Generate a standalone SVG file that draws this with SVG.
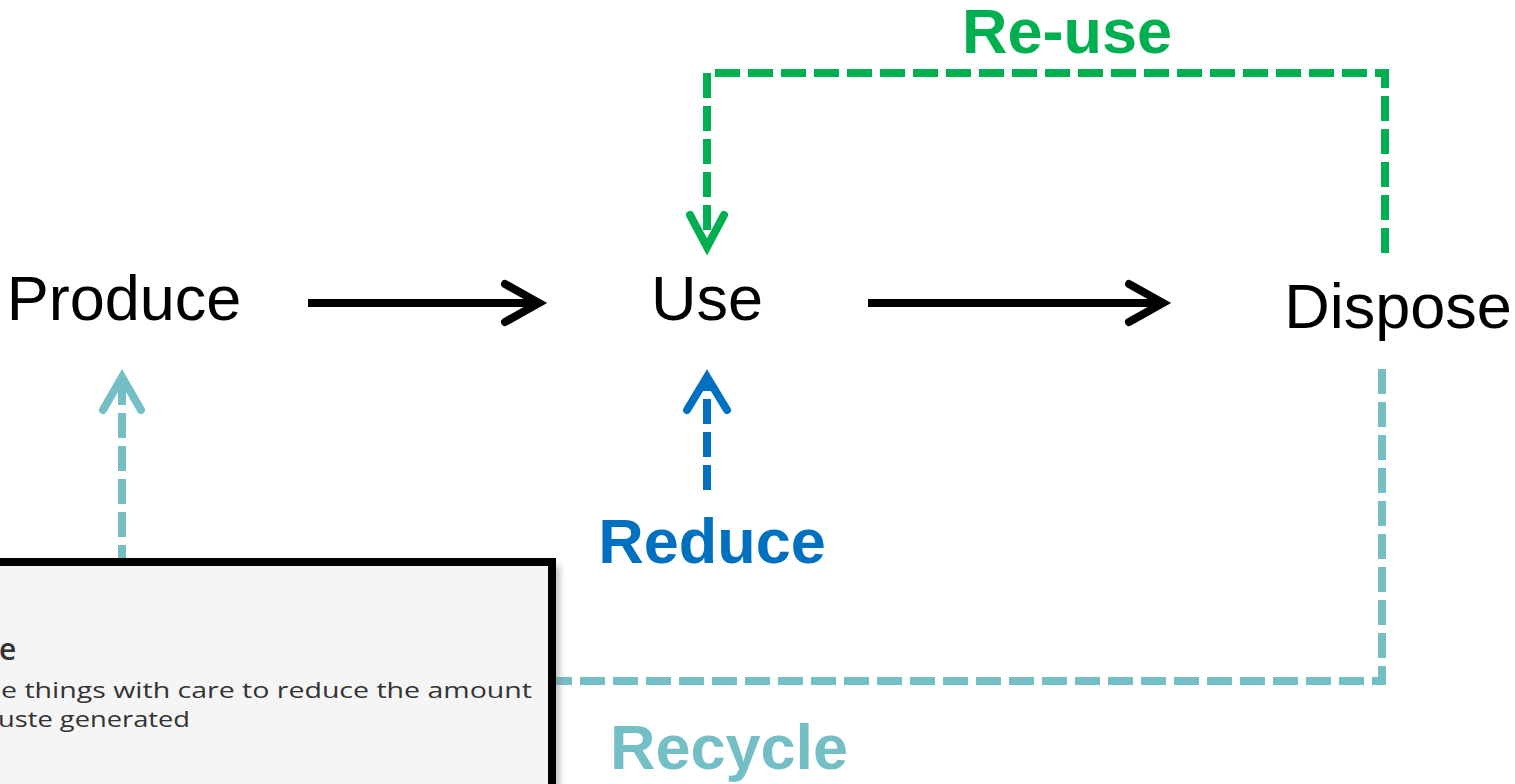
<svg xmlns="http://www.w3.org/2000/svg" width="1515" height="784" viewBox="0 0 1515 784">
<style>
.lbl{font-family:"Liberation Sans",Arial,sans-serif;font-size:63px;fill:#000;text-anchor:middle}
.bold{font-family:"Liberation Sans",Arial,sans-serif;font-size:63px;font-weight:bold;text-anchor:middle}
.solid{fill:none;stroke:#000;stroke-width:8}
.head{fill:none;stroke-width:8;stroke-linecap:round;stroke-linejoin:miter}
.dash{fill:none;stroke-width:8;stroke-dasharray:25 8}
.green{stroke:#00B050}
.blue{stroke:#0070C0}
.teal{stroke:#74BFC5}
.tip{font-family:"Open Sans","Noto Sans",sans-serif;fill:#333}
</style>
<defs>
<filter id="sh" x="-10%" y="-10%" width="120%" height="120%">
<feGaussianBlur stdDeviation="3"/>
</filter>
</defs>
<rect width="1515" height="784" fill="#fff"/>
<g id="connectors">
<path class="solid" d="M308,303 H536"/>
<polyline class="head" stroke="#000" points="505,284 539,303 505,322"/>
<path class="solid" d="M868,303 H1160"/>
<polyline class="head" stroke="#000" points="1129,284 1163,303 1129,322"/>
<path class="dash green" d="M1385,253 V73 H707 V244"/>
<polyline class="head green" points="690,215 707,247 724,215"/>
<path class="dash blue" d="M707,490 V380"/>
<polyline class="head blue" points="687,410 707,377 727,410"/>
<path class="dash teal" d="M1382,369 V681 H122 V380"/>
<polyline class="head teal" points="103,410 122,377 141,410"/>
</g>
<g id="produce"><text class="lbl" x="124" y="320">Produce</text></g>
<g id="use"><text class="lbl" x="707" y="320">Use</text></g>
<g id="dispose"><text class="lbl" x="1398" y="328">Dispose</text></g>
<g id="reuse"><text class="bold" x="1067" y="53" fill="#00B050">Re-use</text></g>
<g id="reduce"><text class="bold" x="712" y="563" fill="#0070C0">Reduce</text></g>
<g id="recycle"><text class="bold" x="729" y="769" fill="#74BFC5">Recycle</text></g>
<g id="tooltip">
<rect x="-10" y="566" width="570" height="240" fill="#888" opacity="0.5" filter="url(#sh)"/>
<rect x="-10" y="562" width="562" height="240" fill="#f5f5f5" stroke="#000" stroke-width="8"/>
<text class="tip" x="-1" y="660" font-size="30" font-weight="600" fill="#111">e</text>
<text class="tip" x="1" y="698" font-size="22" textLength="531" lengthAdjust="spacingAndGlyphs">e things with care to reduce the amount</text>
<text class="tip" x="-2" y="727" font-size="22" textLength="192" lengthAdjust="spacingAndGlyphs">uste generated</text>
</g>
</svg>
